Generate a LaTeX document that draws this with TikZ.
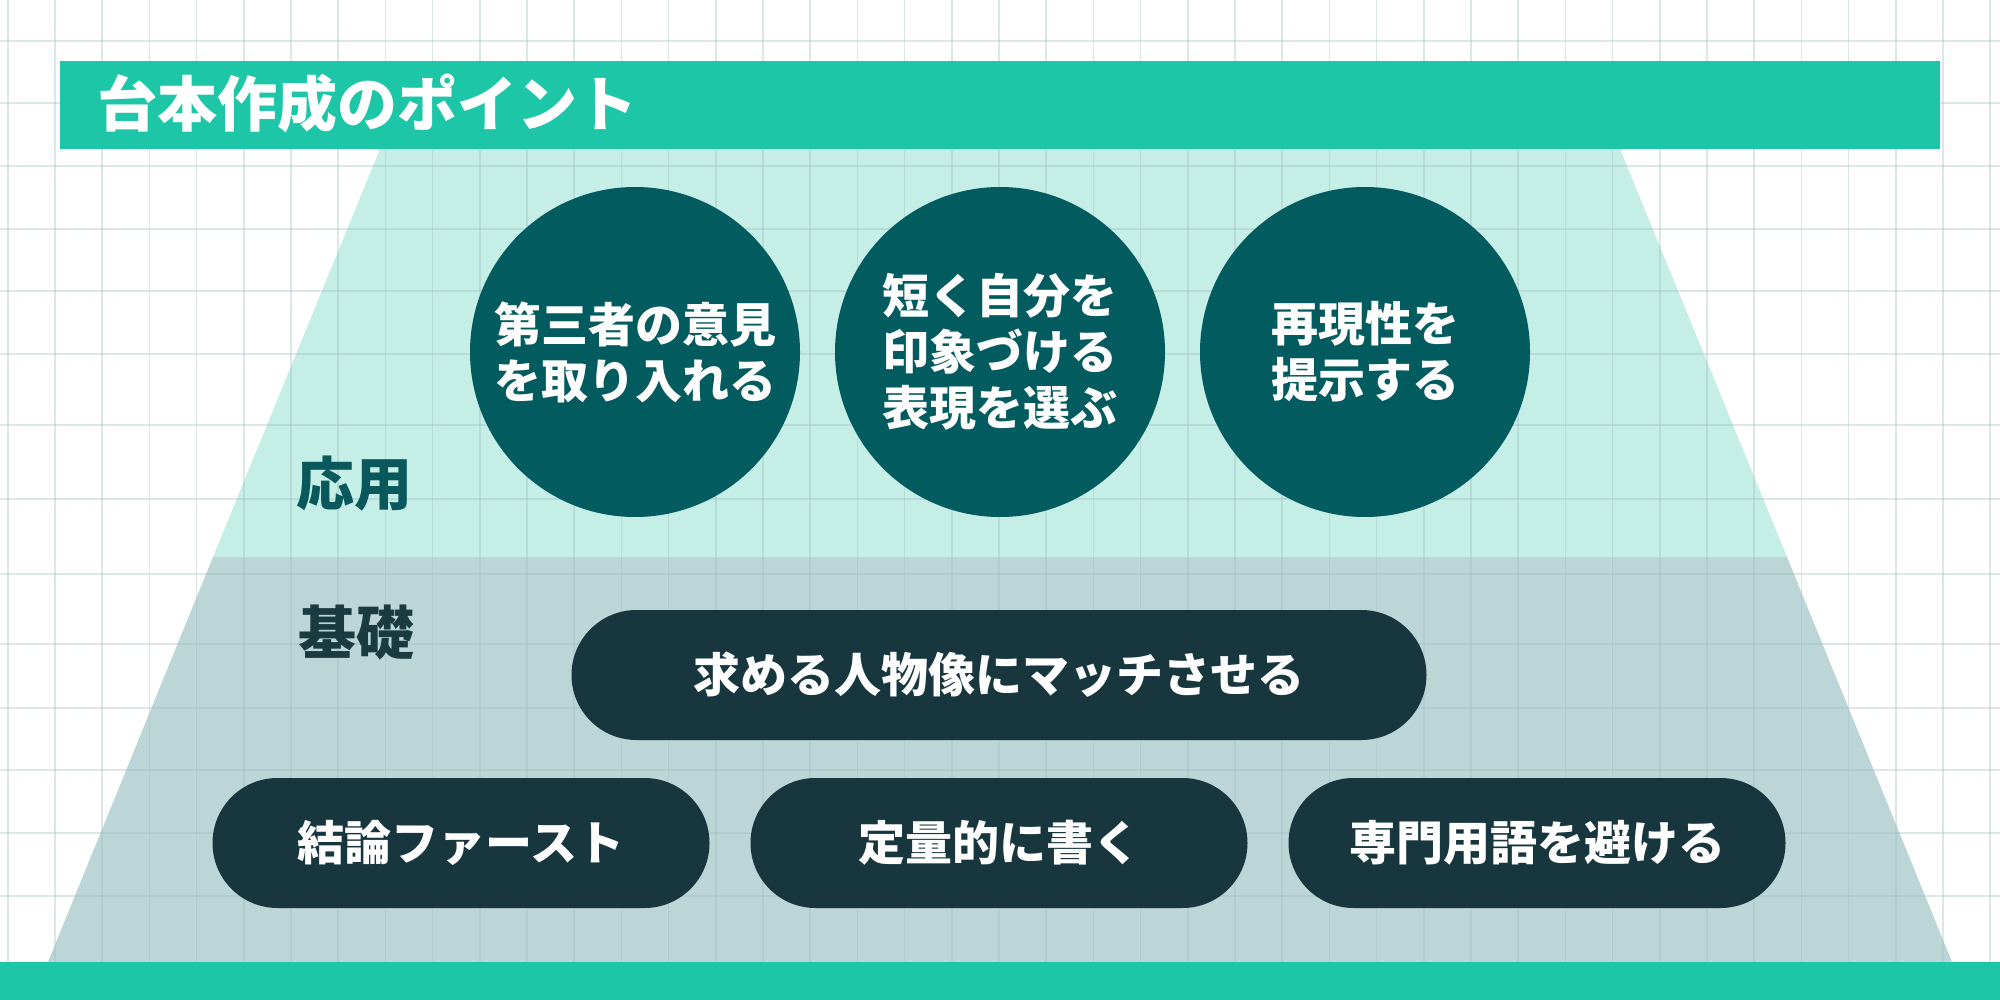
\documentclass[tikz,border=0pt]{standalone}
\usepackage{fontspec}
\setmainfont{Noto Sans CJK JP}
\definecolor{teal1}{HTML}{1EC6A8}
\definecolor{uppertrapc}{HTML}{C4EEE6}
\definecolor{lowtrapc}{HTML}{BCD5D6}
\definecolor{circc}{HTML}{025B5F}
\definecolor{pillc}{HTML}{17363D}
\definecolor{labone}{HTML}{08585C}
\definecolor{labtwo}{HTML}{1A3B40}
\definecolor{gridc}{HTML}{9FBDBD}
\tikzset{
  gridline/.style={draw=gridc, line width=1.6pt, opacity=0.35},
  circnode/.style={circle, fill=circc, minimum size=330pt, inner sep=0pt, text=white, align=center,
    font=\fontsize{47}{56}\selectfont\bfseries},
  pillnode/.style={rounded rectangle, fill=pillc, minimum height=130pt, inner sep=0pt, text=white,
    font=\fontsize{47}{56}\selectfont\bfseries},
  levellabel/.style={inner sep=0pt, font=\fontsize{58}{64}\selectfont\bfseries}
}
\usetikzlibrary{shapes.misc}
\begin{document}
\begin{tikzpicture}[x=1pt,y=-1pt]
\useasboundingbox (0,0) rectangle (2000,1000);
\fill[white] (0,0) rectangle (2000,1000);
% pyramid levels
\fill[uppertrapc] (380,149) -- (1620,149) -- (1787,557) -- (213,557) -- cycle;
\fill[lowtrapc] (213,557) -- (1787,557) -- (1952,962) -- (48,962) -- cycle;
% grid
\draw[gridline] (8,0) -- (8,962);
\foreach \i in {0,...,41} \draw[gridline] ({55+47.2*\i},0) -- ({55+47.2*\i},962);
\foreach \y in {41,103,166,229,291,354,425,499,574,644,708,770,833,896} \draw[gridline] (0,\y) -- (2000,\y);
% title bar
\node[fill=teal1, minimum width=1880pt, minimum height=88pt, inner sep=0pt] (titlebar) at (1000,105) {};
\node[anchor=west, inner sep=0pt, text=white, font=\fontsize{60}{66}\selectfont\bfseries] (titletext) at (97,104) {台本作成のポイント};
% bottom bar
\fill[teal1] (0,962) rectangle (2000,1000);
% labels
\node[levellabel, text=labone] (ouyou) at (354,484) {応用};
\node[levellabel, text=labtwo] (kiso) at (356,633) {基礎};
% circles
\node[circnode] (c1) at (635,352) {第三者の意見\\を取り入れる};
\node[circnode] (c2) at (1000,352) {短く自分を\\印象づける\\表現を選ぶ};
\node[circnode] (c3) at (1365,352) {再現性を\\提示する};
% pills
\node[pillnode, minimum width=855pt] (p0) at (999,675) {求める人物像にマッチさせる};
\node[pillnode, minimum width=497pt] (p1) at (461,843) {結論ファースト};
\node[pillnode, minimum width=497pt] (p2) at (999,843) {定量的に書く};
\node[pillnode, minimum width=497pt] (p3) at (1537,843) {専門用語を避ける};
\end{tikzpicture}
\end{document}
